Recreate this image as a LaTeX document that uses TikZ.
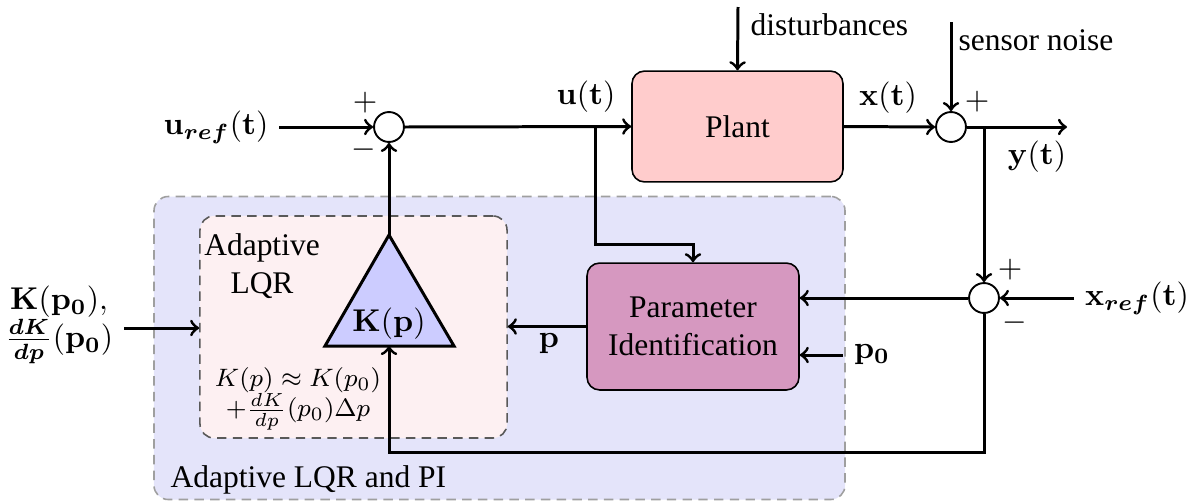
\documentclass[tikz,border=0pt]{standalone}
\usepackage{amsmath}
\usepackage[no-math]{fontspec}
\setmainfont{Liberation Serif}
\definecolor{plantfill}{RGB}{255,204,204}
\definecolor{pidfill}{RGB}{214,152,192}
\definecolor{outerfill}{RGB}{228,228,250}
\definecolor{innerfill}{RGB}{253,240,242}
\definecolor{trifill}{RGB}{204,204,255}
\begin{document}
\begin{tikzpicture}[x=0.3175pt,y=-0.3175pt,
  conn/.style={line width=0.95pt,->},
  sumnode/.style={circle,draw,semithick,fill=white,minimum size=9.5pt,inner sep=0pt},
  blockbox/.style={draw,rounded corners=4pt,align=center,line width=0.5pt,inner sep=0pt},
  groupbox/.style={rounded corners=4.5pt,dash pattern=on 3pt off 2pt,inner sep=0pt,line width=0.5pt}]
\useasboundingbox (0,0) rectangle (1195,500);

% group boxes
\node[groupbox,draw=gray!75,fill=outerfill,minimum width=219.4pt,minimum height=96.2pt] (outer) at (499.5,348) {};
\node[groupbox,draw=black!65,fill=innerfill,minimum width=97.5pt,minimum height=70.5pt] (lqr) at (353.5,327) {};
\node[anchor=base west,inner sep=0pt] (outerlab) at (170,487) {Adaptive LQR and PI};
\node[anchor=north,align=center,inner sep=0pt] (lqrlab) at (262,233) {Adaptive\\LQR};
\node[align=center,font=\footnotesize] (formula) at (298,399) {$K(p)\approx K(p_0)$\\$+\frac{dK}{dp}(p_0)\Delta p$};

% blocks
\node[blockbox,fill=plantfill,minimum width=67pt,minimum height=35.2pt] (plant) at (737.5,126.5) {Plant};
\node[blockbox,fill=pidfill,minimum width=67.3pt,minimum height=40.3pt] (pid) at (693,326.5) {Parameter\\Identification};

% triangle gain
\draw[line width=0.95pt,fill=trifill] (389,235) coordinate (kapex) -- (454,346) -- (325,346) -- cycle;
\coordinate (kbase) at (389,346);
\node (klab) at (389,324) {$\mathbf{K(p)}$};

% summing junctions
\node[sumnode] (s1) at (389,127) {};
\node[sumnode] (s2) at (951,127) {};
\node[sumnode] (s3) at (984,298) {};

% labels
\node (uref) at (216,127) {$\mathbf{u}_{\boldsymbol{ref}}\mathbf{(t)}$};
\node (ulab) at (586,97) {$\mathbf{u(t)}$};
\node (xlab) at (888,98) {$\mathbf{x(t)}$};
\node (ylab) at (1037,157) {$\mathbf{y(t)}$};
\node (xref) at (1137,298) {$\mathbf{x}_{\boldsymbol{ref}}\mathbf{(t)}$};
\node (plab) at (549,344) {$\mathbf{p}$};
\node (p0) at (872,355) {$\mathbf{p_0}$};
\node[align=center] (kin) at (59,325) {$\mathbf{K(p_0)},$\\$\boldsymbol{\frac{dK}{dp}}\mathbf{(p_0)}$};
\node[anchor=base west,inner sep=0pt] (dlab) at (750,35) {disturbances};
\node[anchor=base west,inner sep=0pt] (nlab) at (958,50) {sensor noise};
\node (s1p) at (365,103) {$+$};
\node (s1m) at (364,150) {$-$};
\node (s2p) at (977,102) {$+$};
\node (s3p) at (1010,270) {$+$};
\node (s3m) at (1015,323) {$-$};

% coordinates
\coordinate (ub) at (595,127);
\coordinate (ubc) at (693,244);
\coordinate (dtop) at (738,7);
\coordinate (ntop) at (951,22);
\coordinate (yend) at (1067,127);
\coordinate (yb) at (984,127);
\coordinate (fbl) at (389,452);

% connectors
\draw[conn] (uref.east) -- (s1.west);
\draw[conn] (s1.east) -- (plant.west);
\draw[conn] (ub) |- (ubc) -- (pid.north);
\draw[conn] (dtop) -- (plant.north);
\draw[conn] (plant.east) -- (s2.west);
\draw[conn] (ntop) -- (s2.north);
\draw[conn] (s2.east) -- (yend);
\draw[conn] (yb) -- (s3.north);
\draw[conn] (xref.west) -- (s3.east);
\draw[conn] (s3.west) -- (pid.east |- s3.west);
\draw[conn] (p0.west) -- (pid.east |- p0.west);
\draw[conn] (pid.west) -- (lqr.east |- pid.west);
\draw[conn] (s3.south) |- (fbl) -- (kbase);
\draw[conn] (kapex) -- (s1.south);
\draw[conn] (kin.east |- 0,328) -- (lqr.west |- 0,328);
\end{tikzpicture}
\end{document}
